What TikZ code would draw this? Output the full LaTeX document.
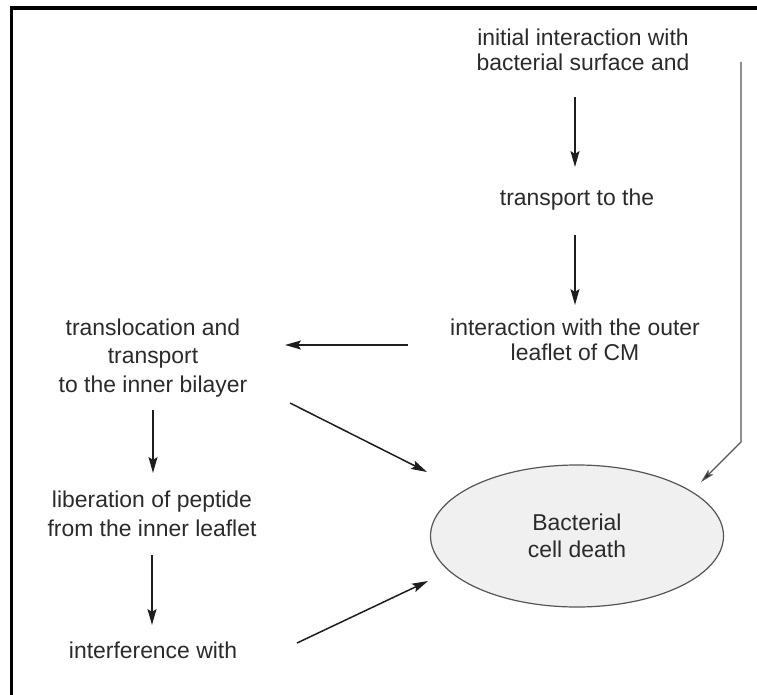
\documentclass[tikz,border=0pt]{standalone}
\usepackage{fontspec}
\setmainfont{Liberation Sans}
\usetikzlibrary{arrows.meta,calc,shapes.geometric}
\definecolor{txt}{HTML}{2A2A2A}
\definecolor{ink}{HTML}{1E1E1E}
\definecolor{cellfill}{HTML}{F0F0F0}
\definecolor{celldraw}{HTML}{555555}
\tikzset{
  lbl/.style={inner sep=0pt, align=center, text=txt, font=\fontsize{23}{28.5}\selectfont},
  lbltight/.style={lbl, font=\fontsize{23}{25}\selectfont},
  arr/.style={draw=ink, line width=1.5bp, -{Stealth[length=16bp,width=9bp,inset=3bp]}},
  cell/.style={ellipse, draw=celldraw, fill=cellfill, line width=1.2bp, minimum width=293bp, minimum height=142bp, inner sep=0pt, align=center, text=txt, font=\fontsize{23}{27}\selectfont},
  frame/.style={draw=black, line width=3.2bp, line join=miter}
}
\begin{document}
\begin{tikzpicture}[x=1bp,y=-1bp]
\useasboundingbox (0,0) rectangle (757,695);
\draw[frame] (757,8) -- (11.3,8) -- (11.3,695);

\node[lbltight] (n1) at (583,50) {initial interaction with\\bacterial surface and};
\node[lbl] (n2) at (577,200) {transport to the};
\node[lbltight] (n3) at (575,340) {interaction with the outer\\leaflet of CM};
\node[lbl] (n4) at (153,358) {translocation and\\transport\\to the inner bilayer};
\node[lbl] (n5) at (152,514) {liberation of peptide\\from the inner leaflet};
\node[lbl] (n6) at (153,650) {interference with};
\node[cell] (death) at (577,536) {Bacterial\\cell death};

\draw[arr] ($(n1)+(-8,47)$) -- ($(n2)+(-2,-33)$);
\draw[arr] ($(n2)+(-2,35)$) -- ($(n3)+(0,-35)$);
\draw[arr] ($(n3)+(-167,5)$) -- ($(n4)+(132,-13)$);
\draw[arr] ($(n4)+(0,52)$) -- ($(n5)+(1,-41)$);
\draw[arr] ($(n5)+(0,41)$) -- ($(n6)+(-1,-25)$);
\draw[arr] ($(n4)+(137,45)$) -- ($(death)+(-150,-64)$);
\draw[arr] ($(n6)+(144,-7)$) -- ($(death)+(-149,45)$);
\coordinate (rc) at ($(n1)+(158,392)$);
\draw[arr, line width=1.2bp, draw=celldraw, -{Stealth[length=14bp,width=7bp,inset=3bp,fill=ink]}] ($(n1)+(158,12)$) -- (rc) -- ($(death)+(124,-54)$);
\end{tikzpicture}
\end{document}
